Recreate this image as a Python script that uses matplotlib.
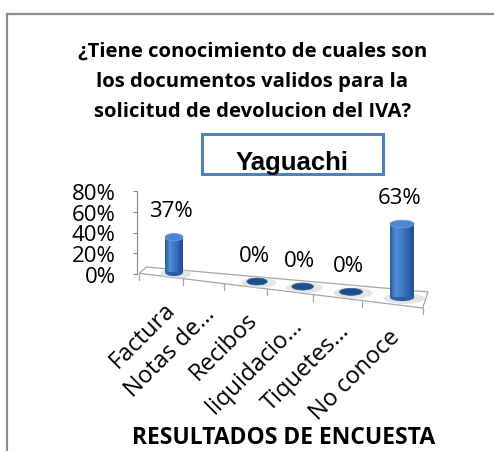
import numpy as np
import matplotlib.pyplot as plt
from matplotlib.patches import Ellipse, Polygon, Rectangle
from matplotlib.colors import LinearSegmentedColormap

plt.rcParams['font.family'] = ['Open Sans', 'DejaVu Sans']

# datos de la encuesta (% de respuestas)
categorias = ["Factura", "Notas de…", "Recibos", "liquidacio…", "Tiquetes…", "No conoce"]
porcentajes = [37, np.nan, 0, 0, 0, 63]   # "Notas de…" no tiene dato
ticks_y = [0, 20, 40, 60, 80]

titulo = "¿Tiene conocimiento de cuales son\nlos documentos validos para la\nsolicitud de devolucion del IVA?"
ciudad = "Yaguachi"
titulo_eje = "RESULTADOS DE ENCUESTA"

# perspectiva tipo grafico 3D de Excel
B = 0.0353


def fwd(x):
    return x + B * np.asarray(x) ** 2


def inv(u):
    return (-1 + np.sqrt(np.maximum(1 + 4 * B * np.asarray(u), 0))) / (2 * B)


def piso(x):      # altura de la base de cada cilindro
    return 1.5 - 4.1 * fwd(x)


def borde_atras(x):
    return 4.4 - 3.31 * fwd(x)


def borde_frente(x):
    return -3.41 - 4.575 * fwd(x)


def escala(x):    # las barras mas cercanas se ven mas altas
    return 0.92 + 0.035 * fwd(x)


W_FIG, H_FIG = 494, 452
fig = plt.figure(figsize=(W_FIG / 100, H_FIG / 100), dpi=100)

# ubicacion del area del grafico (en pixeles)
K, X0PX = 38.76, 174
PY, Y0PX = 1.0375, 275
xlim = (-1.0, 6.2)
ylim = (-45, 85)
izq = X0PX + K * fwd(xlim[0])
der = X0PX + K * fwd(xlim[1])
arr = Y0PX - ylim[1] * PY
aba = Y0PX - ylim[0] * PY
ax = fig.add_axes([izq / W_FIG, 1 - aba / H_FIG, (der - izq) / W_FIG, (aba - arr) / H_FIG])
ax.set_xscale('function', functions=(fwd, inv))
ax.set_xlim(xlim)
ax.set_ylim(ylim)
ax.patch.set_visible(False)

for s in ['top', 'right', 'bottom']:
    ax.spines[s].set_visible(False)
ax.spines['left'].set_bounds(0, 80)
ax.spines['left'].set_color('#868686')
ax.set_xticks([])
ax.set_yticks(ticks_y)
ax.set_yticklabels([f"{t}%" for t in ticks_y], fontsize=16)
ax.tick_params(axis='y', length=3, color='#868686', pad=12)

# piso
x_bl, x_br = -0.73, 5.49
x_fl, x_fr = -0.925, 5.39
piso_poly = Polygon([(x_bl, borde_atras(x_bl)), (x_br, borde_atras(x_br)),
                     (x_fr, borde_frente(x_fr)), (x_fl, borde_frente(x_fl))],
                    closed=True, facecolor='white', edgecolor='#A6A6A6', lw=0.9, zorder=1)
ax.add_patch(piso_poly)
for i in range(len(categorias) + 1):
    xt = i - 0.77 if i > 0 else x_fl
    if i == len(categorias):
        xt = x_fr
    yt = borde_frente(xt)
    ax.plot([xt, xt], [yt, yt - 6], color='#A6A6A6', lw=0.9, zorder=1, clip_on=False)

# cilindros
cmap = LinearSegmentedColormap.from_list(
    'cil', ["#2B62AA", "#4F8ED8", "#3D7AC4", "#2D66AF", "#1F5196"])
ancho = 0.46
n_tiras = 14
alto_elipse = 7.0

for i, v in enumerate(porcentajes):
    if np.isnan(v):
        continue
    base = piso(i)
    h = v * escala(i)
    ax.add_patch(Ellipse((i + 0.04, base - 1.0), ancho * 1.7, alto_elipse * 1.5,
                         facecolor='#D5D5D5', alpha=0.6, lw=0, zorder=2))
    if v == 0:
        ax.add_patch(Ellipse((i, base), ancho, alto_elipse * 0.95,
                             facecolor='#1F4E8C', edgecolor='#2A5A98', lw=0.5, zorder=3))
    else:
        ax.add_patch(Ellipse((i, base), ancho, alto_elipse,
                             facecolor='#2A5FA6', lw=0, zorder=3))
        xs = i - ancho / 2 + (np.arange(n_tiras) + 0.5) * ancho / n_tiras
        for k, xk in enumerate(xs):
            ax.bar(xk, h, width=ancho / n_tiras * 1.08, bottom=base,
                   color=cmap(k / (n_tiras - 1)), lw=0, zorder=4)
        ax.add_patch(Ellipse((i, base + h), ancho, alto_elipse,
                             facecolor='#4A87D0', edgecolor='#6A9FDE', lw=0.6, zorder=5))
    ax.annotate(f"{v:.0f}%", xy=(i, base + h), xytext=(-2, 19), textcoords='offset points',
                ha='center', va='center', fontsize=16, color='black')

# etiquetas de categorias
for i, cat in enumerate(categorias):
    xc = i - 0.27
    ax.annotate(cat, xy=(xc, borde_frente(xc)), xytext=(0, -15), textcoords='offset points',
                rotation=45, rotation_mode='anchor', ha='right', va='top', fontsize=17)

# marco del grafico
fig.patches.append(Rectangle((7 / W_FIG, -0.2), 1.2, 1.2 - 15 / H_FIG,
                             transform=fig.transFigure, fill=False,
                             edgecolor='#8C8C8C', lw=1.6))

# titulos
fig.text(0.511, 1 - 82 / H_FIG, titulo, ha='center', va='center', fontsize=14.6,
         fontweight='bold', linespacing=1.68)
fig.patches.append(Rectangle((202 / W_FIG, 1 - 175 / H_FIG), 181 / W_FIG, 40 / H_FIG,
                             transform=fig.transFigure, fill=False,
                             edgecolor='#4F81BD', lw=2.2))
fig.text(292 / W_FIG, 1 - 170 / H_FIG, ciudad, ha='center', va='baseline', fontsize=18.5,
         fontweight='bold', family=['Liberation Sans', 'DejaVu Sans'])
fig.text(283.5 / W_FIG, 1 - 438 / H_FIG, titulo_eje, ha='center', va='center',
         fontsize=16.5, fontweight='bold')

fig.savefig('out.png', dpi=100)
